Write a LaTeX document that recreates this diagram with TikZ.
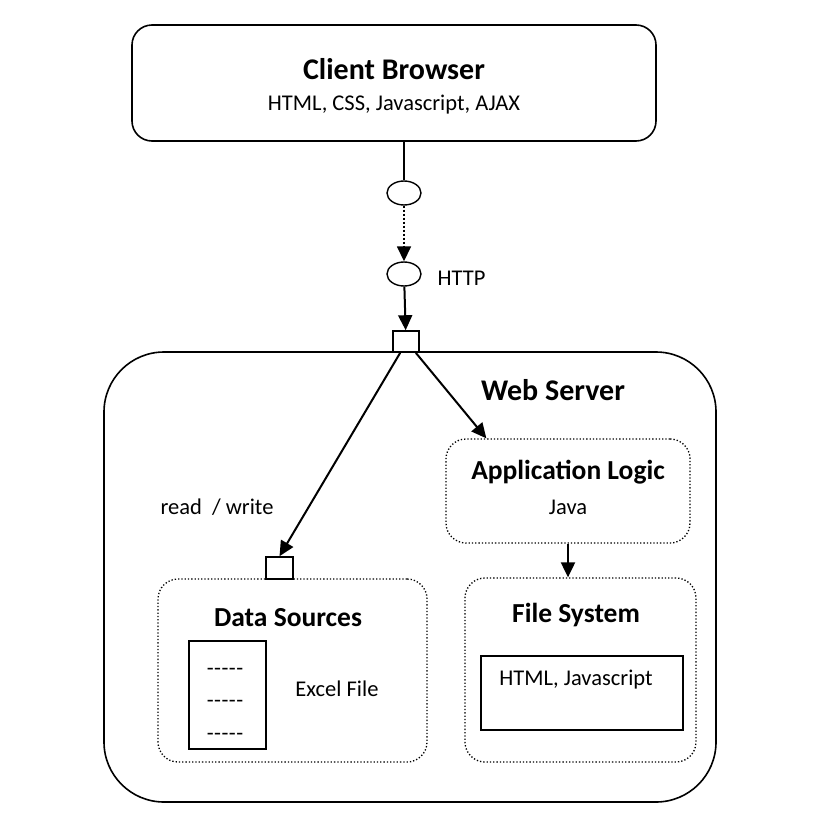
\documentclass[tikz,border=0pt]{standalone}
\usepackage{fontspec}
\setmainfont{Carlito}
\usetikzlibrary{arrows.meta,shapes.geometric}

\newcommand{\dashrow}{-\kern0.5pt-\kern0.5pt-\kern0.5pt-\kern0.5pt-}

\tikzset{
  box/.style={draw, line width=1.6pt, rounded corners=20pt},
  area/.style={draw, line width=1.3pt, dotted, rounded corners=20pt},
  title/.style={font=\fontsize{30}{34}\selectfont\bfseries},
  subtitle/.style={font=\fontsize{27.5}{31}\selectfont\bfseries},
  txt/.style={font=\fontsize{22.5}{26}\selectfont},
  port/.style={draw, line width=1.6pt, inner sep=0pt},
  link/.style={draw, ellipse, line width=1.4pt, minimum width=34pt, minimum height=24pt, inner sep=0pt},
  arr/.style={-{Triangle[length=15pt,width=14pt]}, line width=2pt},
}

\begin{document}
\begin{tikzpicture}[x=1pt,y=-1pt]
    \useasboundingbox (0,0) rectangle (838,833);

    % client side
    \node[box, minimum width=524pt, minimum height=116pt] (browser) at (394,83) {};
    \node[title] (browsertitle) at (394,69) {Client Browser};
    \node[txt] (browsertech) at (394,105) {HTML, CSS, Javascript, AJAX};

    \node[link] (req) at (404,193) {};
    \node[link] (http) at (404,274) {};
    \node[txt, anchor=west] (httplabel) at (434,278) {HTTP};

    % server side
    \node[box, rounded corners=60pt, minimum width=612pt, minimum height=450pt] (server) at (410,577) {};
    \node[title] (servertitle) at (553,390) {Web Server};
    \node[port, minimum width=26pt, minimum height=21pt] (entry) at (406,341.5) {};

    \node[area, minimum width=244pt, minimum height=104pt] (logic) at (568,491) {};
    \node[subtitle] (logictitle) at (568,472) {Application Logic};
    \node[txt] (logictech) at (568,507) {Java};

    \node[area, minimum width=231pt, minimum height=184pt] (files) at (580.5,670) {};
    \node[subtitle] (filestitle) at (576,615) {File System};
    \node[port, minimum width=202pt, minimum height=74pt] (filebox) at (582,693) {};
    \node[txt] (filetech) at (576,680) {HTML, Javascript};

    \node[area, minimum width=269pt, minimum height=183pt] (data) at (292.5,670.5) {};
    \node[subtitle] (datatitle) at (288,618) {Data Sources};
    \node[port, minimum width=27pt, minimum height=22pt] (dataport) at (279.5,568) {};
    \node[port, minimum width=77pt, minimum height=108pt] (excel) at (227.5,695) {};
    \node[txt] (row1) at (225,672) {\dashrow};
    \node[txt] (row2) at (225,704) {\dashrow};
    \node[txt] (row3) at (225,737) {\dashrow};
    \node[txt] (exceltext) at (337,689) {Excel File};
    \node[txt] (rw) at (217,507) {read~~/ write};

    % connectors
    \draw[line width=1.6pt] (req |- browser.south) -- (req);
    \draw[arr, dotted, line width=1.6pt] (req) -- (http);
    \draw[arr] (http) -- (entry);
    \draw[arr] ([xshift=8pt]entry.south west) -- (dataport.north);
    \draw[arr] ([xshift=-4pt]entry.south east) -- ([xshift=41pt]logic.north west);
    \draw[arr] (logic.south) -- (logic.south |- files.north);
\end{tikzpicture}
\end{document}
